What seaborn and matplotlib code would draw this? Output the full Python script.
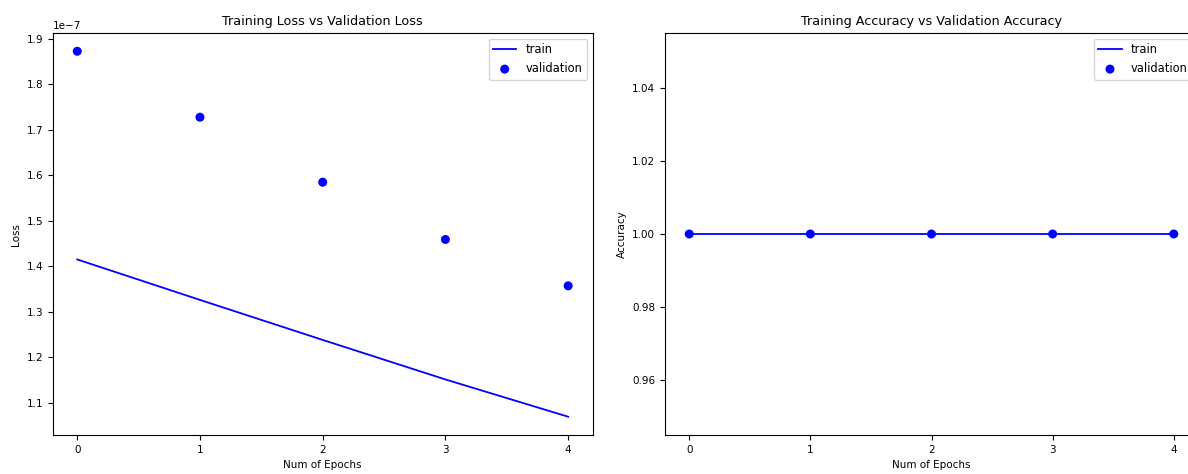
import matplotlib
matplotlib.use("Agg")
import matplotlib.pyplot as plt
import seaborn as sns
import pandas as pd

# values
epochs = [0, 1, 2, 3, 4]
train_loss = [1.415e-7, 1.326e-7, 1.238e-7, 1.151e-7, 1.069e-7]
val_loss = [1.873e-7, 1.728e-7, 1.585e-7, 1.459e-7, 1.357e-7]
train_acc = [1.0, 1.0, 1.0, 1.0, 1.0]
val_acc = [1.0, 1.0, 1.0, 1.0, 1.0]

plt.rcParams['font.family'] = ['DejaVu Sans']

fig = plt.figure(figsize=(11.88, 4.74), dpi=100)
# right panel is cut off at the image edge in the reference
ax1 = fig.add_axes([52.7 / 1188, 1 - 435 / 474, 540 / 1188, 402 / 474])
ax2 = fig.add_axes([665 / 1188, 1 - 435 / 474, 533 / 1188, 402 / 474])

panels = [
    (ax1, train_loss, val_loss, 'Training Loss vs Validation Loss', 'Loss'),
    (ax2, train_acc, val_acc, 'Training Accuracy vs Validation Accuracy', 'Accuracy'),
]

for ax, tr, va, title, ylab in panels:
    df = pd.DataFrame({'epoch': epochs, 'train': tr, 'validation': va})
    sns.lineplot(data=df, x='epoch', y='train', color='blue', linewidth=1.3,
                 label='train', ax=ax)
    sns.scatterplot(data=df, x='epoch', y='validation', color='blue', s=42,
                    edgecolor='none', label='validation', ax=ax, zorder=3)
    ax.set_title(title, fontsize=9.2)
    ax.set_xlabel('Num of Epochs', fontsize=7.5)
    ax.set_ylabel(ylab, fontsize=7.5)
    ax.set_xticks(epochs)
    ax.tick_params(labelsize=7.5)
    ax.yaxis.get_offset_text().set_fontsize(7.5)
    ax.legend(loc='upper right', fontsize=8.3)

ax2.set_yticks([0.96, 0.98, 1.00, 1.02, 1.04])

fig.savefig('out.png', dpi=100)
